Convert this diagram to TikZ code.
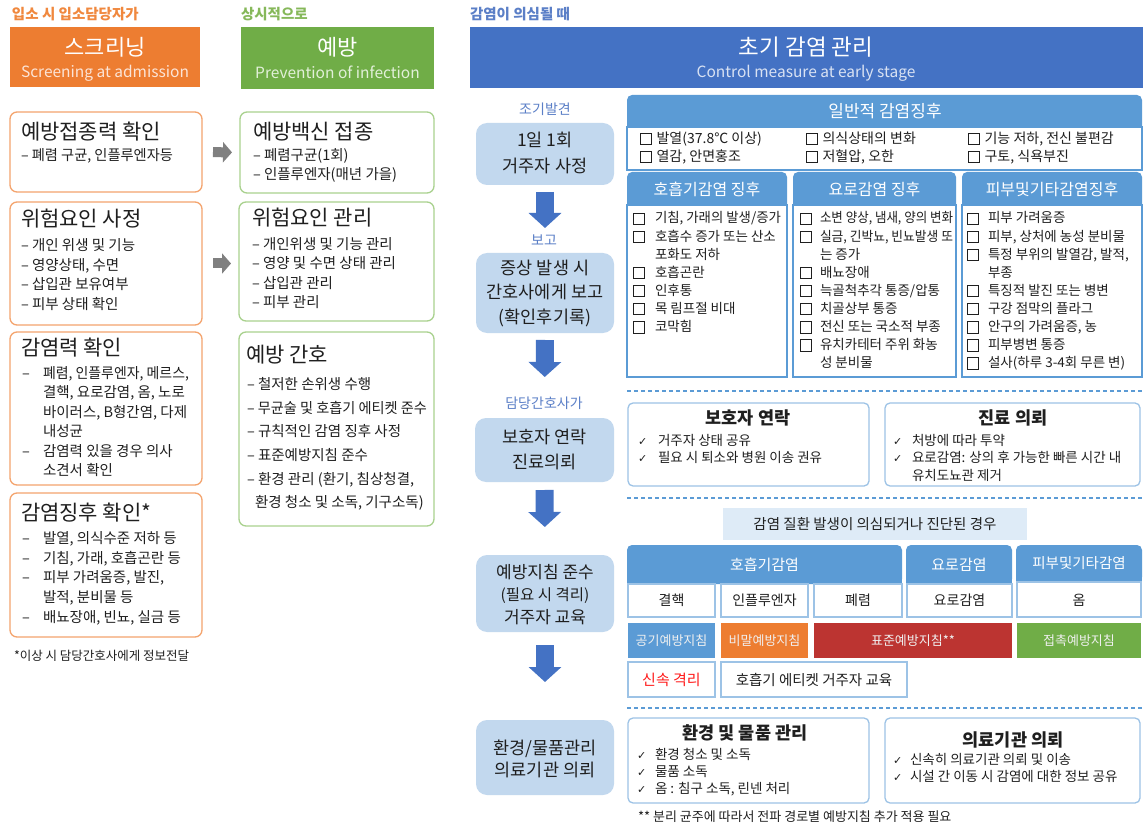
\documentclass[tikz,border=0pt]{standalone}
\usepackage{fontspec}
\usepackage{graphicx}
\setmainfont{Noto Sans CJK KR}
\newfontfamily\dvfont{DejaVu Sans}
\usetikzlibrary{arrows.meta}
\definecolor{cor}{HTML}{ED7D31}
\definecolor{corl}{HTML}{F4A46E}
\definecolor{corT}{HTML}{F0883E}
\definecolor{cgr}{HTML}{70AD47}
\definecolor{cgrl}{HTML}{A9D18E}
\definecolor{cgrT}{HTML}{86B85A}
\definecolor{cbl}{HTML}{4472C4}
\definecolor{cblT}{HTML}{5B7FC7}
\definecolor{cmb}{HTML}{5B9BD5}
\definecolor{clb}{HTML}{C2D8EE}
\definecolor{cpb}{HTML}{DEEBF7}
\definecolor{cbd}{HTML}{9DC3E6}
\definecolor{crd}{HTML}{BC3431}
\definecolor{cred}{HTML}{FF1A1A}
\definecolor{ctx}{HTML}{1F1F1F}
\definecolor{cgy}{HTML}{808080}
\definecolor{csubO}{HTML}{FCE4D6}
\definecolor{csubG}{HTML}{E2F0D9}
\definecolor{csubB}{HTML}{D9E2F3}
\newcommand\fs[2]{\fontsize{#1}{#2}\selectfont}
\newcommand\fitw[2]{\sbox0{#2}\ifdim\wd0>#1\relax\resizebox{#1}{\height}{#2}\else\usebox0\fi}
\newcommand\cbx{\raisebox{-1pt}{\setlength{\fboxsep}{0pt}\setlength{\fboxrule}{0.8pt}\fbox{\rule{0pt}{10.5pt}\rule{10pt}{0pt}}}}
\newcommand\ck{{\dvfont\fontsize{11}{11}\selectfont ✓}}
\newcommand\lst[2]{\begin{tabular}[t]{@{}#1@{}}#2\end{tabular}}
\newcommand\ind[1]{\makebox[#1][l]{}}
\newcommand\dsh[1]{\makebox[#1][l]{–}}
\newcommand\bx[6]{\pgfmathsetmacro\rkw{#5-#3}\pgfmathsetmacro\rkh{#6-#4}\node[#1,anchor=north west,minimum width=\rkw pt,minimum height=\rkh pt] (#2) at (#3,#4) {};}
\begin{document}
\begin{tikzpicture}[x=1pt,y=-1pt,
  every node/.style={inner sep=0pt,outer sep=0pt},
  txt/.style={text=ctx},
  wtx/.style={text=white},
  hdO/.style={fill=cor},
  hdG/.style={fill=cgr},
  hdB/.style={fill=cbl},
  boxO/.style={draw=corl,line width=1.3pt,rounded corners=7pt,fill=white},
  boxG/.style={draw=cgrl,line width=1.3pt,rounded corners=7pt,fill=white},
  flowbox/.style={fill=clb,rounded corners=11pt},
  pbody/.style={draw=cmb,line width=1.2pt,fill=white},
  rbox/.style={draw=cbd,line width=1.3pt,rounded corners=5pt,fill=white},
  dbox/.style={draw=cbd,line width=1.3pt,fill=white},
  cbar/.style={fill=#1},
  lbox/.style={fill=cpb},
  barrow/.style={draw=cbl,line width=18pt,-{Triangle[width=32pt,length=15pt]}},
  garrow/.style={draw=cgy,line width=10pt,-{Triangle[width=20pt,length=9pt]}},
  dline/.style={draw=cmb,line width=1.2pt,dash pattern=on 4pt off 3pt},
  phdr/.style={fill=cmb,rounded corners=5pt},
]
\useasboundingbox (0,0) rectangle (1144,829);
\fill[white] (0,0) rectangle (1144,829);

% ---------- top labels and headers ----------
\node[anchor=base west,text=corT,font=\fs{14.5}{17}\bfseries] (lab1) at (12,19.4) {입소 시 입소담당자가};
\node[anchor=base west,text=cgrT,font=\fs{14.5}{17}\bfseries] (lab2) at (241,19.4) {상시적으로};
\node[anchor=base west,text=cblT,font=\fs{14.5}{17}\bfseries] (lab3) at (470,19.4) {감염이 의심될 때};

\bx{hdO}{hO}{10}{27}{200}{87}
\bx{hdG}{hG}{241}{27}{434}{89}
\bx{hdB}{hB}{470}{27}{1143}{88}
\node[wtx,anchor=base,font=\fs{22}{26}] (hOt) at (105,56) {스크리닝};
\node[anchor=base,text=csubO,font=\fs{15.5}{18}] (hOs) at (105,78) {Screening at admission};
\node[wtx,anchor=base,font=\fs{22}{26}] (hGt) at (337.5,55.5) {예방};
\node[anchor=base,text=csubG,font=\fs{15.5}{18}] (hGs) at (337.5,79) {Prevention of infection};
\node[wtx,anchor=base,font=\fs{22.5}{26}] (hBt) at (806,55.5) {초기 감염 관리};
\node[anchor=base,text=csubB,font=\fs{15.5}{18}] (hBs) at (806,78) {Control measure at early stage};

% ---------- screening column ----------
\bx{boxO}{o1}{10}{112}{202}{192}
\node[txt,anchor=base west,font=\fs{21}{25}] (o1t) at (21,139.8) {예방접종력 확인};
\node[txt,anchor=base west,font=\fs{14.5}{19.8}] (o1l) at (21,160.4) {\fitw{152pt}{– 폐렴 구균, 인플루엔자등}};

\bx{boxO}{o2}{10}{202}{202}{325}
\node[txt,anchor=base west,font=\fs{21}{25}] (o2t) at (21,226.8) {위험요인 사정};
\node[txt,anchor=base west,font=\fs{14.5}{19.8}] (o2l) at (21,250.4)
  {\lst{l}{– 개인 위생 및 기능\\– 영양상태, 수면\\– 삽입관 보유여부\\– 피부 상태 확인}};

\bx{boxO}{o3}{10}{332}{202}{485}
\node[txt,anchor=base west,font=\fs{21}{25}] (o3t) at (21,355.8) {감염력 확인};
\node[txt,anchor=base west,font=\fs{14.5}{19.5}] (o3l) at (22,378.4)
  {\lst{l}{\dsh{21pt}\fitw{146pt}{폐렴, 인플루엔자, 메르스,}\\
  \ind{21pt}\fitw{146pt}{결핵, 요로감염, 옴, 노로}\\
  \ind{21pt}\fitw{146pt}{바이러스, B형간염, 다제}\\
  \ind{21pt}내성균\\
  \dsh{21pt}\fitw{146pt}{감염력 있을 경우 의사}\\
  \ind{21pt}소견서 확인}};

\bx{boxO}{o4}{10}{493}{202}{637}
\node[txt,anchor=base west,font=\fs{21}{25}] (o4t) at (21,520.8) {감염징후 확인*};
\node[txt,anchor=base west,font=\fs{14.5}{19.7}] (o4l) at (22,543.4)
  {\lst{l}{\dsh{21pt}\fitw{146pt}{발열, 의식수준 저하 등}\\
  \dsh{21pt}\fitw{146pt}{기침, 가래, 호흡곤란 등}\\
  \dsh{21pt}\fitw{146pt}{피부 가려움증, 발진,}\\
  \ind{21pt}발적, 분비물 등\\
  \dsh{21pt}\fitw{146pt}{배뇨장애, 빈뇨, 실금 등}}};
\node[txt,anchor=base west,font=\fs{12.5}{15}] (o4n) at (14,660.6) {*이상 시 담당간호사에게 정보전달};

% ---------- prevention column ----------
\bx{boxG}{g1}{240}{112}{434}{193}
\node[txt,anchor=base west,font=\fs{21}{25}] (g1t) at (253,139.8) {예방백신 접종};
\node[txt,anchor=base west,font=\fs{14.5}{19.5}] (g1l) at (253,160.4)
  {\lst{l}{– 폐렴구균(1회)\\– 인플루엔자(매년 가을)}};

\bx{boxG}{g2}{239}{202}{434}{321}
\node[txt,anchor=base west,font=\fs{21}{25}] (g2t) at (252,225.8) {위험요인 관리};
\node[txt,anchor=base west,font=\fs{14.5}{19.5}] (g2l) at (252,249.4)
  {\lst{l}{\fitw{176pt}{– 개인위생 및 기능 관리}\\\fitw{176pt}{– 영양 및 수면 상태 관리}\\– 삽입관 관리\\– 피부 관리}};

\bx{boxG}{g3}{239}{332}{434}{526}
\node[txt,anchor=base west,font=\fs{21}{25}] (g3t) at (246,362.8) {예방 간호};
\node[txt,anchor=base west,font=\fs{14.5}{23.7}] (g3l) at (247,389.4)
  {\lst{l}{– 철저한 손위생 수행\\
  \fitw{180pt}{– 무균술 및 호흡기 에티켓 준수}\\
  \fitw{180pt}{– 규칙적인 감염 징후 사정}\\
  – 표준예방지침 준수\\
  \fitw{180pt}{– 환경 관리 (환기, 침상청결,}\\
  \ind{8pt}\fitw{172pt}{환경 청소 및 소독, 기구소독)}}};

\draw[garrow,shorten <=11pt,shorten >=8pt] (o1.east) -- (g1.west);
\draw[garrow,shorten <=11pt,shorten >=8pt] (o2.east) -- (o2.east -| g2.west);

% ---------- early management: flow ----------
\node[anchor=base,text=cblT,font=\fs{14}{17}] (fl1) at (545,114.2) {조기발견};
\node[anchor=base,text=cblT,font=\fs{14}{17}] (fl2) at (544,246) {보고};
\node[anchor=base,text=cblT,font=\fs{14}{17}] (fl3) at (544,408) {담당간호사가};

\bx{flowbox}{f1}{476}{123}{614}{185}
\bx{flowbox}{f2}{476}{253}{614}{333}
\bx{flowbox}{f3}{475}{418}{614}{482}
\bx{flowbox}{f4}{476}{555}{614}{632}
\bx{flowbox}{f5}{476}{720}{614}{795}
\node[txt,anchor=base,font=\fs{17.5}{26}] (f1x) at (545,146.5) {\lst{c}{1일 1회\\거주자 사정}};
\node[txt,anchor=base,font=\fs{17.5}{24.5}] (f2x) at (545,274.5) {\lst{c}{증상 발생 시\\간호사에게 보고\\(확인후기록)}};
\node[txt,anchor=base,font=\fs{17.5}{25}] (f3x) at (544.5,443.5) {\lst{c}{보호자 연락\\진료의뢰}};
\node[txt,anchor=base,font=\fs{17}{22.5}] (f4x) at (545,578.3) {\lst{c}{예방지침 준수\\{\fs{15.5}{22.5}(필요 시 격리)}\\거주자 교육}};
\node[txt,anchor=base,font=\fs{17.5}{22}] (f5x) at (545,754.5) {\lst{c}{환경/물품관리\\의료기관 의뢰}};

\draw[barrow,shorten <=7pt,shorten >=25pt] (f1.south) -- (f2.north);
\draw[barrow,shorten <=7pt,shorten >=41pt] (f2.south) -- (f3.north);
\draw[barrow,shorten <=8pt,shorten >=28pt] (f3.south) -- (f4.north);
\draw[barrow,shorten <=13pt,shorten >=38pt] (f4.south) -- (f5.north);

% ---------- general signs ----------
\fill[phdr] (627,95) rectangle (1142,134);
\bx{pbody}{gb}{627}{127}{1142}{170}
\node[wtx,anchor=base,font=\fs{17}{20}] (gbt) at (885,117.3) {일반적 감염징후};
\node[txt,anchor=base west,font=\fs{14}{18}] (gc1) at (640,143.2)
  {\lst{l@{\hspace{5pt}}l}{\cbx & 발열(37.8℃ 이상)\\\cbx & 열감, 안면홍조}};
\node[txt,anchor=base west,font=\fs{14}{18}] (gc2) at (806,143.2)
  {\lst{l@{\hspace{5pt}}l}{\cbx & 의식상태의 변화\\\cbx & 저혈압, 오한}};
\node[txt,anchor=base west,font=\fs{14}{18}] (gc3) at (968,143.2)
  {\lst{l@{\hspace{5pt}}l}{\cbx & 기능 저하, 전신 불편감\\\cbx & 구토, 식욕부진}};

% ---------- three sign panels ----------
\fill[phdr] (627,172) rectangle (787,212);
\fill[phdr] (793,172) rectangle (956,212);
\fill[phdr] (962,172) rectangle (1142,212);
\bx{pbody}{s1}{627}{205}{787}{377}
\bx{pbody}{s2}{793}{205}{956}{377}
\bx{pbody}{s3}{962}{205}{1142}{377}
\node[wtx,anchor=base,font=\fs{16}{19}] (s1t) at (707,195.9) {호흡기감염 징후};
\node[wtx,anchor=base,font=\fs{16}{19}] (s2t) at (874.5,195.9) {요로감염 징후};
\node[wtx,anchor=base,font=\fs{16}{19}] (s3t) at (1052,195.9) {피부및기타감염징후};
\node[txt,anchor=base west,font=\fs{13.5}{18.1}] (s1l) at (633,223)
  {\lst{l@{\hspace{10.4pt}}l}{\cbx & \fitw{126pt}{기침, 가래의 발생/증가}\\
  \cbx & \fitw{126pt}{호흡수 증가 또는 산소}\\
   & 포화도 저하\\
  \cbx & 호흡곤란\\
  \cbx & 인후통\\
  \cbx & 목 림프절 비대\\
  \cbx & 코막힘}};
\node[txt,anchor=base west,font=\fs{13.5}{18.1}] (s2l) at (800,223)
  {\lst{l@{\hspace{8.4pt}}l}{\cbx & \fitw{133pt}{소변 양상, 냄새, 양의 변화}\\
  \cbx & \fitw{133pt}{실금, 긴박뇨, 빈뇨발생 또}\\
   & 는 증가\\
  \cbx & 배뇨장애\\
  \cbx & \fitw{133pt}{늑골척추각 통증/압통}\\
  \cbx & \fitw{133pt}{치골상부 통증}\\
  \cbx & \fitw{133pt}{전신 또는 국소적 부종}\\
  \cbx & \fitw{133pt}{유치카테터 주위 화농}\\
   & 성 분비물}};
\node[txt,anchor=base west,font=\fs{13.5}{18.1}] (s3l) at (967,223)
  {\lst{l@{\hspace{9.4pt}}l}{\cbx & 피부 가려움증\\
  \cbx & \fitw{151pt}{피부, 상처에 농성 분비물}\\
  \cbx & \fitw{151pt}{특정 부위의 발열감, 발적,}\\
   & 부종\\
  \cbx & \fitw{151pt}{특징적 발진 또는 병변}\\
  \cbx & \fitw{151pt}{구강 점막의 플라그}\\
  \cbx & \fitw{151pt}{안구의 가려움증, 농}\\
  \cbx & 피부병변 통증\\
  \cbx & \fitw{151pt}{설사(하루 3-4회 무른 변)}}};

% ---------- dashed separators ----------
\coordinate (d1a) at (627,391); \coordinate (d1b) at (1143,391);
\coordinate (d2a) at (627,498); \coordinate (d2b) at (1143,498);
\coordinate (d3a) at (627,708); \coordinate (d3b) at (1143,708);
\draw[dline] (d1a) -- (d1b);
\draw[dline] (d2a) -- (d2b);
\draw[dline] (d3a) -- (d3b);

% ---------- contact / referral ----------
\bx{rbox}{b1}{628}{403}{869}{486}
\bx{rbox}{b2}{885}{403}{1140}{486}
\node[txt,anchor=base,font=\fs{17.5}{20}\bfseries] (b1t) at (748,424.5) {보호자 연락};
\node[txt,anchor=base,font=\fs{17.5}{20}\bfseries] (b2t) at (1013,424.5) {진료 의뢰};
\node[txt,anchor=base west,font=\fs{13.5}{17.5}] (b1l) at (638,445)
  {\lst{l}{\makebox[20pt][l]{\ck}거주자 상태 공유\\\makebox[20pt][l]{\ck}필요 시 퇴소와 병원 이송 권유}};
\node[txt,anchor=base west,font=\fs{13.5}{17.5}] (b2l) at (893,445)
  {\lst{l}{\makebox[19pt][l]{\ck}처방에 따라 투약\\\makebox[19pt][l]{\ck}\fitw{226pt}{요로감염: 상의 후 가능한 빠른 시간 내}\\\ind{19pt}유치도뇨관 제거}};

% ---------- diagnosed case ----------
\bx{lbox}{lb}{723}{508}{1027}{540}
\node[txt,anchor=base,font=\fs{14.5}{17}] (lbt) at (875,529.4) {감염 질환 발생이 의심되거나 진단된 경우};

\fill[phdr] (627,545) rectangle (902,584);
\fill[cmb] (627,560) rectangle (902,584);
\fill[phdr] (906,545) rectangle (1012,584);
\fill[cmb] (906,560) rectangle (1012,584);
\fill[phdr] (1016,545) rectangle (1142,582);
\fill[cmb] (1016,560) rectangle (1142,582);
\node[wtx,anchor=base,font=\fs{15}{18}] (c1t) at (764.5,570.6) {호흡기감염};
\node[wtx,anchor=base,font=\fs{15}{18}] (c2t) at (959,570.6) {요로감염};
\node[wtx,anchor=base,font=\fs{14.5}{18}] (c3t) at (1079,568.4) {피부및기타감염};

\bx{dbox}{e1}{628}{584}{715}{617}
\bx{dbox}{e2}{721}{584}{808}{617}
\bx{dbox}{e3}{814}{584}{902}{617}
\bx{dbox}{e4}{907}{584}{1012}{617}
\bx{dbox}{e5}{1017}{582}{1141}{617}
\node[txt,anchor=base,font=\fs{14}{17}] (e1t) at (671.5,605.2) {결핵};
\node[txt,anchor=base,font=\fs{14}{17}] (e2t) at (764.5,605.2) {인플루엔자};
\node[txt,anchor=base,font=\fs{14}{17}] (e3t) at (858,605.2) {폐렴};
\node[txt,anchor=base,font=\fs{14}{17}] (e4t) at (959.5,605.2) {요로감염};
\node[txt,anchor=base,font=\fs{14}{17}] (e5t) at (1079,605.2) {옴};

\bx{cbar=cmb}{p1}{628}{623}{715}{658}
\bx{cbar=cor}{p2}{721}{623}{808}{658}
\bx{cbar=crd}{p3}{814}{623}{1012}{658}
\bx{cbar=cgr}{p4}{1017}{623}{1141}{658}
\node[anchor=base,text=white!94!black,font=\fs{13}{16}] (p1t) at (671.5,645.3) {\fitw{82pt}{공기예방지침}};
\node[anchor=base,text=white!94!black,font=\fs{13}{16}] (p2t) at (764.5,645.3) {\fitw{82pt}{비말예방지침}};
\node[anchor=base,text=white!94!black,font=\fs{13}{16}] (p3t) at (913,645.3) {표준예방지침**};
\node[anchor=base,text=white!94!black,font=\fs{13}{16}] (p4t) at (1079,645.3) {접촉예방지침};

\bx{dbox}{r1}{628}{662}{715}{697}
\bx{dbox}{r2}{721}{662}{907}{697}
\node[anchor=base,text=cred,font=\fs{15}{18}] (r1t) at (671.5,685.5) {신속 격리};
\node[txt,anchor=base,font=\fs{14.5}{17}] (r2t) at (814,685.4) {호흡기 에티켓 거주자 교육};

% ---------- environment / hospital ----------
\bx{rbox}{b3}{628}{718}{869}{803}
\bx{rbox}{b4}{885}{718}{1140}{803}
\node[txt,anchor=base,font=\fs{17.5}{20}\bfseries] (b3t) at (745,739.5) {환경 및 물품 관리};
\node[txt,anchor=base,font=\fs{17.5}{20}\bfseries] (b4t) at (1013,746.5) {의료기관 의뢰};
\node[txt,anchor=base west,font=\fs{13.5}{17}] (b3l) at (637,759)
  {\lst{l}{\makebox[18pt][l]{\ck}환경 청소 및 소독\\\makebox[18pt][l]{\ck}물품 소독\\\makebox[18pt][l]{\ck}옴 : 침구 소독, 린넨 처리}};
\node[txt,anchor=base west,font=\fs{13.5}{17}] (b4l) at (893,764)
  {\lst{l}{\makebox[17pt][l]{\ck}신속히 의료기관 의뢰 및 이송\\\makebox[17pt][l]{\ck}\fitw{226pt}{시설 간 이동 시 감염에 대한 정보 공유}}};
\node[txt,anchor=base west,font=\fs{13}{16}] (fn2) at (638,821.8) {** 분리 균주에 따라서 전파 경로별 예방지침 추가 적용 필요};
\end{tikzpicture}
\end{document}
